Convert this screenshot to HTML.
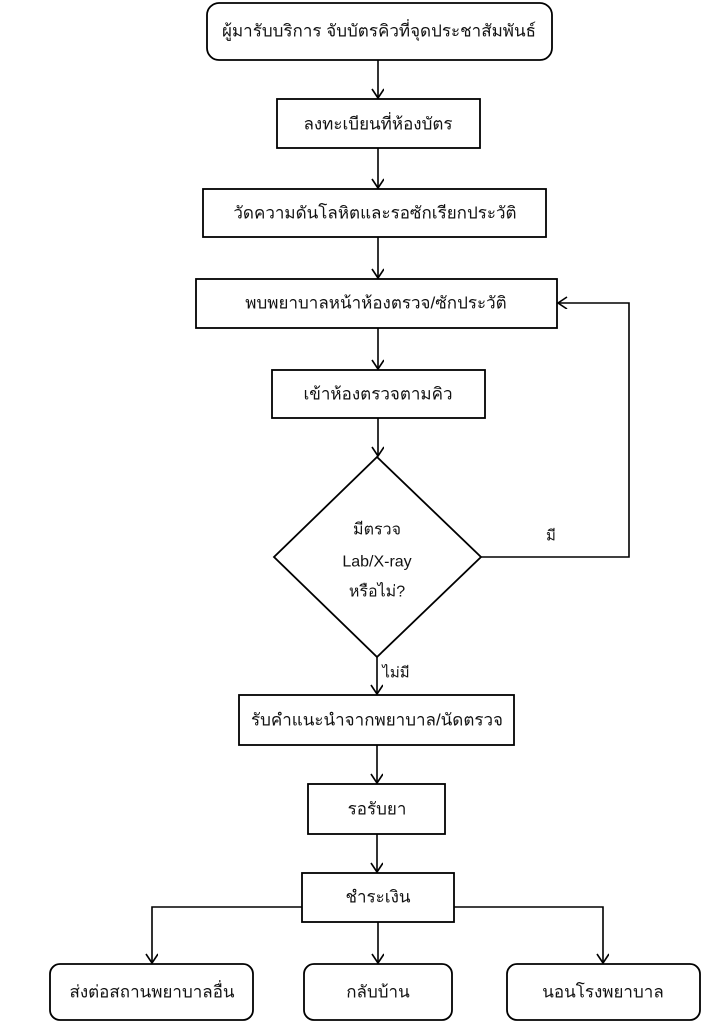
<!DOCTYPE html>
<html><head><meta charset="utf-8"><style>
html,body{margin:0;padding:0;background:#fff;}
svg{display:block;}
text{font-family:"Liberation Sans","Noto Sans CJK SC",sans-serif;font-size:17px;fill:#111;text-anchor:middle;dominant-baseline:central;}
</style></head><body>
<svg width="702" height="1024" viewBox="0 0 702 1024" xmlns="http://www.w3.org/2000/svg">
<defs><marker id="a" markerWidth="14" markerHeight="14" refX="10" refY="6" orient="auto" markerUnits="userSpaceOnUse"><path d="M1,0 L10,6 L1,12" fill="none" stroke="#000" stroke-width="1.6"/></marker></defs>
<g fill="none" stroke="#000" stroke-width="1.8">
<rect x="207" y="3" width="345" height="57" rx="12"/>
<rect x="277" y="99" width="203" height="49"/>
<rect x="203" y="189" width="343" height="48"/>
<rect x="196" y="279" width="361" height="49"/>
<rect x="272" y="370" width="213" height="48"/>
<path d="M377,457 L481,557 L377,657 L274,557 Z"/>
<rect x="239" y="695" width="275" height="50"/>
<rect x="308" y="784" width="137" height="50"/>
<rect x="302" y="873" width="152" height="49"/>
<rect x="50" y="964" width="203" height="56" rx="10"/>
<rect x="304" y="964" width="148" height="56" rx="10"/>
<rect x="507" y="964" width="193" height="56" rx="10"/>
</g>
<g fill="none" stroke="#000" stroke-width="1.6" marker-end="url(#a)">
<path d="M378,60 V98"/>
<path d="M378,148 V188"/>
<path d="M378,237 V278"/>
<path d="M378,328 V369"/>
<path d="M378,418 V456"/>
<path d="M377,657 V694"/>
<path d="M377,745 V783"/>
<path d="M377,834 V872"/>
<path d="M481,557 H629 V303 H558"/>
<path d="M302,907 H152 V963"/>
<path d="M378,922 V963"/>
<path d="M454,907 H603 V963"/>
</g>
<text x="379" y="31">ผู้มารับบริการ จับบัตรคิวที่จุดประชาสัมพันธ์</text>
<text x="378" y="124">ลงทะเบียนที่ห้องบัตร</text>
<text x="375" y="213">วัดความดันโลหิตและรอซักเรียกประวัติ</text>
<text x="376" y="303">พบพยาบาลหน้าห้องตรวจ/ซักประวัติ</text>
<text x="378" y="394">เข้าห้องตรวจตามคิว</text>
<text x="377" y="530" style="font-size:16px">มีตรวจ</text>
<text x="377" y="562" style="font-size:16px">Lab/X-ray</text>
<text x="377" y="592" style="font-size:16px">หรือไม่?</text>
<text x="551" y="536" style="font-size:15px">มี</text>
<text x="396" y="673" style="font-size:15px">ไม่มี</text>
<text x="377" y="720">รับคำแนะนำจากพยาบาล/นัดตรวจ</text>
<text x="377" y="809">รอรับยา</text>
<text x="378" y="897">ชำระเงิน</text>
<text x="152" y="992">ส่งต่อสถานพยาบาลอื่น</text>
<text x="378" y="992">กลับบ้าน</text>
<text x="603" y="992">นอนโรงพยาบาล</text>
</svg>
</body></html>
